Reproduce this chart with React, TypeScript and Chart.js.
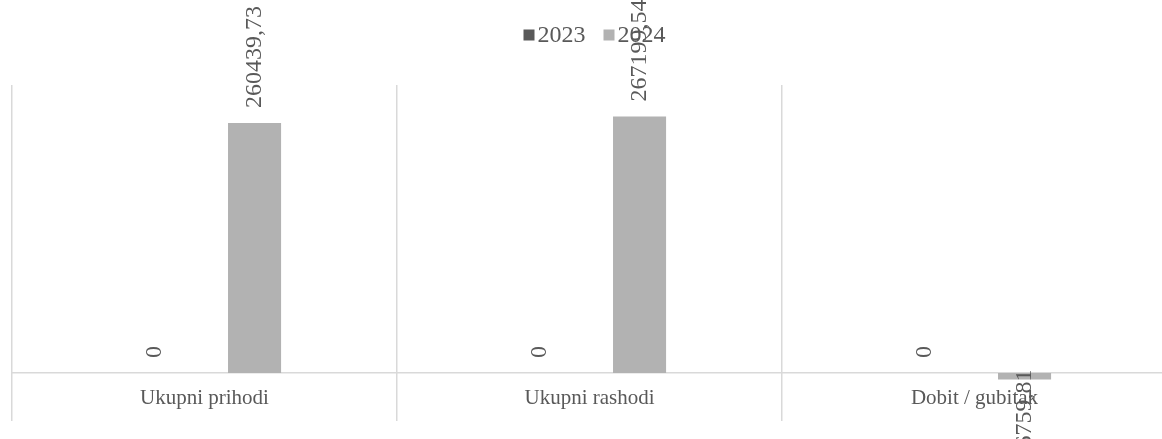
import React, { useEffect, useRef } from "react";
import { Chart, registerables } from "chart.js";

Chart.register(...registerables);

const categories = ["Ukupni prihodi", "Ukupni rashodi", "Dobit / gubitak"];
const seriesNames = ["2023", "2024"];
const values2023 = [0, 0, 0];
const values2024 = [260439.73, 267199.54, -6759.81];
const seriesColors = ["#595959", "#b2b2b2"];
const yMin = -50000;
const yMax = 300000;

const FONT = "'Times New Roman', 'Liberation Serif', serif";
const TEXT_COLOR = "#595959";
const GRID_COLOR = "#d9d9d9";

function fmt(v: number): string {
  if (Number.isInteger(v)) return String(v);
  return v.toFixed(2).replace(".", ",");
}

const dataLabelPlugin = {
  id: "dataLabels",
  afterDatasetsDraw(chart: any) {
    const ctx = chart.ctx;
    ctx.save();
    ctx.font = `24px ${FONT}`;
    ctx.fillStyle = TEXT_COLOR;
    ctx.textBaseline = "middle";
    chart.data.datasets.forEach((ds: any, di: number) => {
      const meta = chart.getDatasetMeta(di);
      meta.data.forEach((bar: any, i: number) => {
        const v = ds.data[i] as number;
        const text = fmt(v);
        ctx.save();
        if (v >= 0) {
          ctx.translate(bar.x, bar.y - 15);
          ctx.rotate(-Math.PI / 2);
          ctx.textAlign = "left";
        } else {
          ctx.translate(bar.x, bar.y - 10);
          ctx.rotate(-Math.PI / 2);
          ctx.textAlign = "right";
        }
        ctx.fillText(text, 0, 0);
        ctx.restore();
      });
    });
    ctx.restore();
  },
};

const legendPlugin = {
  id: "customLegend",
  afterDraw(chart: any) {
    const ctx = chart.ctx;
    ctx.save();
    ctx.font = `24px ${FONT}`;
    ctx.textBaseline = "alphabetic";
    ctx.textAlign = "left";
    const box = 11;
    const gapBoxText = 3;
    const gapItems = 18;
    const widths = seriesNames.map((n) => ctx.measureText(n).width);
    let total = 0;
    widths.forEach((w, i) => {
      total += box + gapBoxText + w + (i < widths.length - 1 ? gapItems : 0);
    });
    let x = 594.5 - total / 2;
    seriesNames.forEach((n, i) => {
      ctx.fillStyle = seriesColors[i];
      ctx.fillRect(x, 29.5, box, box);
      x += box + gapBoxText;
      ctx.fillStyle = TEXT_COLOR;
      ctx.fillText(n, x, 41.5);
      x += widths[i] + gapItems;
    });
    ctx.restore();
  },
};

export default function App() {
  const canvasRef = useRef<HTMLCanvasElement | null>(null);

  useEffect(() => {
    if (!canvasRef.current) return;
    const chart = new Chart(canvasRef.current, {
      type: "bar",
      data: {
        labels: categories,
        datasets: [
          {
            label: seriesNames[0],
            data: values2023,
            backgroundColor: seriesColors[0],
            categoryPercentage: 0.52,
            barPercentage: 0.53,
          },
          {
            label: seriesNames[1],
            data: values2024,
            backgroundColor: seriesColors[1],
            categoryPercentage: 0.52,
            barPercentage: 0.53,
          },
        ],
      },
      options: {
        animation: false,
        responsive: false,
        maintainAspectRatio: false,
        layout: { padding: { top: 85, left: 12, right: 0, bottom: 18 } },
        plugins: {
          legend: { display: false },
          title: { display: false },
          tooltip: { enabled: false },
        },
        scales: {
          x: {
            type: "category",
            position: { y: 0 } as any,
            offset: true,
            grid: {
              display: true,
              offset: true,
              color: GRID_COLOR,
              lineWidth: 1.5,
              drawTicks: false,
            },
            border: { display: true, color: GRID_COLOR, width: 1.5 },
            ticks: {
              color: TEXT_COLOR,
              font: { family: FONT, size: 21 },
              padding: 13,
              maxRotation: 0,
              autoSkip: false,
            },
          },
          y: {
            display: false,
            min: yMin,
            max: yMax,
            grid: { display: false },
          },
        },
      },
      plugins: [dataLabelPlugin, legendPlugin],
    });
    return () => chart.destroy();
  }, []);

  return (
    <div
      style={{
        position: "absolute",
        left: 0,
        top: 0,
        width: 1162,
        height: 439,
        overflow: "hidden",
        background: "#ffffff",
      }}
    >
      <canvas
        ref={canvasRef}
        width={1167}
        height={439}
        style={{ width: 1167, height: 439, display: "block" }}
      />
    </div>
  );
}
